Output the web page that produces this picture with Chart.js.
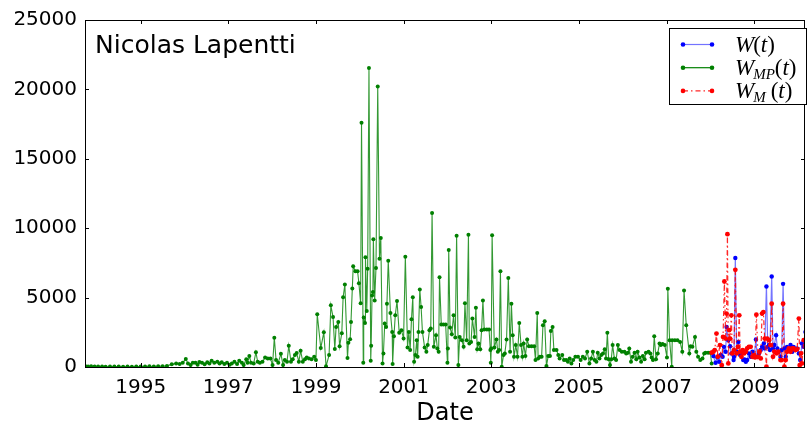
<!DOCTYPE html>
<html>
<head>
<meta charset="utf-8">
<script src="https://cdn.jsdelivr.net/npm/chart.js@4.4.1/dist/chart.umd.min.js"></script>
<style>
  html, body { margin: 0; padding: 0; background: #fff; }
  #wrap { width: 809px; height: 425px; }
</style>
</head>
<body>
<div id="wrap"><canvas id="chart" width="809" height="425"></canvas></div>
<script>
// Tick labels
const xTickYears = [1995, 1997, 1999, 2001, 2003, 2005, 2007, 2009];
const yTickValues = [0, 5000, 10000, 15000, 20000, 25000];

// W_MP(t) - green series (decimal years / values)
const mpYears = [
  1993.74, 1993.80, 1993.87, 1993.95, 1994.03, 1994.12, 1994.20, 1994.30, 1994.40, 1994.50,
  1994.60, 1994.70, 1994.80, 1994.90, 1995.00, 1995.10, 1995.20, 1995.30, 1995.40, 1995.50, 1995.60,
  1995.71, 1995.81, 1995.89, 1995.96, 1996.03, 1996.08, 1996.14, 1996.19, 1996.25, 1996.30,
  1996.34, 1996.40, 1996.46, 1996.52, 1996.57, 1996.62, 1996.68, 1996.75, 1996.80, 1996.85,
  1996.91, 1996.97, 1997.03, 1997.08, 1997.14, 1997.20, 1997.25, 1997.31, 1997.35, 1997.41,
  1997.44, 1997.48, 1997.52, 1997.58, 1997.63, 1997.67, 1997.72, 1997.78, 1997.84, 1997.90,
  1997.96, 1998.01, 1998.05, 1998.09, 1998.14, 1998.20, 1998.25, 1998.29, 1998.34, 1998.38,
  1998.43, 1998.47, 1998.52, 1998.56, 1998.61, 1998.65, 1998.70, 1998.75, 1998.79, 1998.84,
  1998.90, 1998.96, 1999.00,
  1999.03, 1999.11, 1999.18, 1999.23, 1999.30, 1999.34, 1999.39, 1999.43, 1999.46, 1999.51,
  1999.54, 1999.59, 1999.62, 1999.66, 1999.72, 1999.74, 1999.78, 1999.80, 1999.83, 1999.85,
  1999.90, 1999.95, 1999.98, 2000.02, 2000.04, 2000.08, 2000.09, 2000.12, 2000.13, 2000.16,
  2000.18, 2000.21, 2000.25, 2000.26, 2000.28, 2000.30, 2000.31, 2000.34, 2000.37, 2000.41,
  2000.45, 2000.48, 2000.52, 2000.54, 2000.57, 2000.60, 2000.62, 2000.65, 2000.70, 2000.74,
  2000.75, 2000.78, 2000.81, 2000.85, 2000.90, 2000.95, 2001.00, 2001.04, 2001.09,
  2001.12, 2001.15, 2001.18, 2001.21, 2001.24, 2001.27, 2001.30, 2001.32, 2001.34, 2001.37,
  2001.40, 2001.43, 2001.48, 2001.52, 2001.55, 2001.59, 2001.62, 2001.65, 2001.69, 2001.74,
  2001.77, 2001.80, 2001.82, 2001.86, 2001.91, 2001.96, 2002.00, 2002.01, 2002.03, 2002.06,
  2002.10, 2002.14, 2002.18, 2002.21, 2002.25, 2002.28, 2002.33, 2002.37, 2002.40, 2002.44,
  2002.48, 2002.50, 2002.54, 2002.57, 2002.62, 2002.65, 2002.68, 2002.71, 2002.75, 2002.78,
  2002.81, 2002.84, 2002.90, 2002.95, 2002.98, 2002.99, 2003.00, 2003.02,
  2003.07, 2003.12, 2003.15, 2003.18, 2003.21, 2003.24, 2003.28, 2003.31, 2003.35, 2003.39,
  2003.43, 2003.46, 2003.49, 2003.52, 2003.56, 2003.60, 2003.64, 2003.68, 2003.71, 2003.74,
  2003.78, 2003.82, 2003.86, 2003.92, 2003.98, 2004.01, 2004.05, 2004.07, 2004.11, 2004.15,
  2004.18, 2004.22, 2004.26, 2004.30, 2004.34, 2004.36, 2004.40, 2004.43, 2004.49, 2004.53,
  2004.56, 2004.62, 2004.66, 2004.71, 2004.75, 2004.79, 2004.83, 2004.87, 2004.92, 2004.98,
  2005.04, 2005.09, 2005.14, 2005.19, 2005.24, 2005.28, 2005.32, 2005.36, 2005.40, 2005.43,
  2005.47, 2005.51, 2005.55, 2005.59, 2005.62, 2005.65, 2005.68, 2005.71, 2005.74, 2005.77,
  2005.81, 2005.85, 2005.89, 2005.93, 2005.98, 2006.04, 2006.08, 2006.12, 2006.15, 2006.19,
  2006.23, 2006.27, 2006.31, 2006.34, 2006.38, 2006.42, 2006.46, 2006.50, 2006.53, 2006.59,
  2006.63, 2006.66, 2006.69, 2006.72, 2006.76, 2006.80, 2006.84, 2006.87, 2006.91, 2006.96,
  2007.01, 2007.03, 2007.07, 2007.12, 2007.13, 2007.19, 2007.25, 2007.31, 2007.36, 2007.40,
  2007.45, 2007.52, 2007.55, 2007.59, 2007.65, 2007.68, 2007.72, 2007.77, 2007.82, 2007.86,
  2007.89, 2007.95, 2008.00, 2008.03
];
const mpValues = [
  60, 40, 50, 30, 40, 30, 20, 30, 40, 30,
  20, 30, 20, 30, 40, 30, 50, 40, 60, 50, 80,
  190, 260, 215, 310, 570, 260, 140, 310, 310, 165,
  360, 310, 190, 335, 260, 450, 310, 380, 260, 335,
  215, 310, 165, 260, 380, 215, 450, 310, 140, 550,
  310, 790, 310, 260, 1070, 380, 310, 380, 690, 620,
  620, 140, 2100, 500, 310, 950, 140, 500, 380, 1530,
  380, 550, 860, 1000, 380, 1170, 380, 550, 690, 620,
  550, 740, 500,
  3800, 1360, 2500, 50, 860, 4440, 3600, 1290, 2890, 3250,
  1500, 2430, 5030, 5940, 640, 1740, 2000, 3250, 5650, 7250,
  6900, 6900, 6040, 4600, 17600, 300, 3560, 3170, 7900, 4030,
  7070, 21550, 450, 1530, 5150, 5400, 9210, 4800, 7140, 20200,
  7790, 9290, 260, 980, 3130, 2890, 4560, 7660, 3890, 2530,
  215, 2220, 3720, 4750, 2460, 2650, 2050, 7950, 1410,
  2530, 1220, 3440, 5030, 380, 860, 1930, 740, 2530, 5580,
  4320, 2530, 1410, 1100, 1580, 2650, 2770, 11100, 1450, 2290,
  1340, 1100, 6470, 3060, 3060, 3060, 310, 1340, 8430, 2840,
  2360, 3720, 2130, 9450, 140, 2170, 1930, 1450, 4600, 1930,
  9520, 1700, 1810, 3490, 2170, 4270, 1270, 1700, 1270, 2650,
  4800, 2700, 2700, 2700, 1220, 310, 1340, 9500,
  1400, 1980, 1100, 1220, 6900, 20, 860, 980, 1980, 6420,
  1100, 4560, 2290, 740, 1580, 740, 3170, 1580, 740, 1700,
  790, 1980, 1500, 1500, 1500, 500, 3890, 620, 740, 740,
  3010, 3290, 70, 790, 790, 2600, 2890, 1220, 1220, 860,
  620, 860, 500, 500, 380, 620, 260, 500, 740, 740,
  500, 740, 620, 1100, 260, 620, 1100, 500, 380, 1030,
  620, 860, 980, 1270, 620, 2460, 550, 140, 550, 1580,
  620, 500, 1580, 1220, 1100, 1100, 980, 1030, 1340, 380,
  740, 1030, 550, 1100, 690, 380, 790, 550, 1030, 1100,
  980, 690, 500, 2220, 550, 980, 1700, 1580, 1650, 1580,
  690, 5630, 1930, 20, 1930, 1930, 1930, 1810, 1100, 5510,
  3010, 980, 1500, 1450, 2170, 1100, 740, 500, 620, 980,
  1030, 1030, 1030, 260
];

// W(t) - blue series
const wYears = [
  2008.07, 2008.12, 2008.16, 2008.20, 2008.24, 2008.28, 2008.31, 2008.35, 2008.37, 2008.41,
  2008.45, 2008.48, 2008.53, 2008.54, 2008.57, 2008.60, 2008.64, 2008.68, 2008.71, 2008.75,
  2008.78, 2008.81, 2008.84, 2008.88, 2008.92, 2008.96, 2009.00, 2009.04, 2009.07, 2009.11,
  2009.15, 2009.18, 2009.22, 2009.24, 2009.28, 2009.31, 2009.34, 2009.36, 2009.40, 2009.43,
  2009.46, 2009.50, 2009.53, 2009.56, 2009.60, 2009.63, 2009.66, 2009.69, 2009.72, 2009.75,
  2009.79, 2009.83, 2009.87, 2009.90, 2009.94, 2009.98, 2010.02, 2010.05, 2010.09, 2010.13,
  2010.17
];
const wValues = [
  790, 310, 690, 380, 860, 740, 1450, 1100, 2890, 1930,
  1500, 980, 500, 740, 7850, 1100, 1810, 860, 1100, 500,
  550, 380, 500, 980, 740, 1100, 740, 1980, 740, 980,
  1220, 1450, 1700, 1340, 5800, 1450, 1580, 1220, 6520, 1340,
  1580, 2290, 1340, 1100, 740, 1220, 5990, 1340, 740, 1450,
  1220, 1580, 1100, 1450, 1220, 1340, 980, 500, 1700, 1450,
  2530
];

// W_M(t) - red series
const mYears = [
  2008.03, 2008.07, 2008.10, 2008.14, 2008.17, 2008.22, 2008.26, 2008.29, 2008.32, 2008.35,
  2008.37, 2008.39, 2008.41, 2008.43, 2008.45, 2008.48, 2008.50, 2008.54, 2008.57, 2008.60,
  2008.63, 2008.66, 2008.68, 2008.71, 2008.74, 2008.77, 2008.81, 2008.84, 2008.88, 2008.92,
  2008.96, 2009.00, 2009.02, 2009.05, 2009.09, 2009.12, 2009.15, 2009.18, 2009.21, 2009.24,
  2009.28, 2009.30, 2009.34, 2009.37, 2009.40, 2009.43, 2009.46, 2009.51, 2009.55, 2009.60,
  2009.63, 2009.66, 2009.69, 2009.72, 2009.75, 2009.79, 2009.83, 2009.87, 2009.90, 2009.94,
  2009.98, 2010.02, 2010.04, 2010.07, 2010.09, 2010.13
];
const mValues = [
  1030, 1100, 1220, 2410, 740, 1580, 140, 2170, 6160, 2050,
  3850, 9570, 260, 2650, 2050, 3720, 980, 1220, 7000, 980,
  1450, 3720, 1100, 740, 1220, 980, 1100, 1340, 1450, 1450,
  740, 860, 690, 3770, 740, 1100, 620, 3850, 3960, 2050,
  20, 2050, 1930, 1580, 4560, 740, 1100, 980, 1100, 500,
  500, 4560, 20, 500, 1100, 1340, 1100, 1340, 1340, 1220,
  1270, 3490, 140, 980, 260, 1930
];

const toPoints = (xs, ys) => xs.map((x, i) => ({ x: x, y: ys[i] }));

const FONT = '"DejaVu Sans", sans-serif';
const SERIF = '"Liberation Serif", serif';

// draws the box, inward ticks, the name label and the math legend
const framePlugin = {
  id: 'frame',
  afterDraw(chart) {
    const { ctx, chartArea: a, scales } = chart;
    ctx.save();
    ctx.strokeStyle = '#000';
    ctx.lineWidth = 1;
    ctx.strokeRect(a.left + 0.5, a.top + 0.5, a.right - a.left - 1, a.bottom - a.top);

    const tl = 4;
    ctx.beginPath();
    xTickYears.forEach((v) => {
      const px = Math.round(scales.x.getPixelForValue(v)) + 0.5;
      ctx.moveTo(px, a.bottom); ctx.lineTo(px, a.bottom - tl);
      ctx.moveTo(px, a.top); ctx.lineTo(px, a.top + tl);
    });
    yTickValues.forEach((v) => {
      const py = Math.round(scales.y.getPixelForValue(v)) + 0.5;
      ctx.moveTo(a.left, py); ctx.lineTo(a.left + tl, py);
      ctx.moveTo(a.right, py); ctx.lineTo(a.right - tl, py);
    });
    ctx.stroke();

    ctx.fillStyle = '#000';
    ctx.font = '25px ' + FONT;
    ctx.textBaseline = 'alphabetic';
    ctx.fillText('Nicolas Lapentti', 95, 53);

    // legend box
    const bx = 669.5, by = 28.5, bw = 137, bh = 76;
    ctx.fillStyle = '#fff';
    ctx.fillRect(bx, by, bw, bh);
    ctx.strokeRect(bx, by, bw, bh);

    const entries = [
      { color: '#0000ff', alpha: 0.55, dash: [], main: 'W', sub: '', gap: 0 },
      { color: '#008000', alpha: 1, dash: [], main: 'W', sub: 'MP', gap: 0 },
      { color: '#ff0000', alpha: 0.85, dash: [5, 3, 1.5, 3], main: 'W', sub: 'M', gap: 5 }
    ];
    entries.forEach((e, i) => {
      const y = 44.5 + i * 23.2;
      ctx.save();
      ctx.globalAlpha = e.alpha;
      ctx.strokeStyle = e.color;
      ctx.setLineDash(e.dash);
      ctx.lineWidth = 1.2;
      ctx.beginPath(); ctx.moveTo(683, y); ctx.lineTo(712, y); ctx.stroke();
      ctx.restore();
      ctx.fillStyle = e.color;
      [683, 712].forEach((px) => { ctx.beginPath(); ctx.arc(px, y, 2.3, 0, Math.PI * 2); ctx.fill(); });

      const base = y + 7;
      let tx = 735;
      ctx.fillStyle = '#000';
      ctx.font = 'italic 23px ' + SERIF;
      ctx.fillText(e.main, tx, base);
      tx += ctx.measureText(e.main).width - 1;
      if (e.sub) {
        ctx.font = 'italic 15px ' + SERIF;
        ctx.fillText(e.sub, tx, base + 4);
        tx += ctx.measureText(e.sub).width + e.gap;
      }
      ctx.font = '23px ' + SERIF;
      ctx.fillText('(', tx, base);
      tx += ctx.measureText('(').width;
      ctx.font = 'italic 23px ' + SERIF;
      ctx.fillText('t', tx, base);
      tx += ctx.measureText('t').width;
      ctx.font = '23px ' + SERIF;
      ctx.fillText(')', tx, base);
    });
    ctx.restore();
  }
};

new Chart(document.getElementById('chart'), {
  type: 'scatter',
  data: {
    datasets: [
      {
        label: 'W(t)',
        data: toPoints(wYears, wValues),
        showLine: true,
        borderColor: 'rgba(0, 0, 255, 0.55)',
        backgroundColor: '#0000ff',
        borderWidth: 1.2,
        pointRadius: 2.2,
        pointBorderWidth: 0,
        order: 2
      },
      {
        label: 'W_MP(t)',
        data: toPoints(mpYears, mpValues),
        showLine: true,
        borderColor: 'rgba(0, 128, 0, 0.8)',
        backgroundColor: '#008000',
        borderWidth: 1.1,
        pointRadius: 2,
        pointBorderWidth: 0,
        order: 3
      },
      {
        label: 'W_M(t)',
        data: toPoints(mYears, mValues),
        showLine: true,
        borderColor: 'rgba(255, 0, 0, 0.85)',
        backgroundColor: '#ff0000',
        borderWidth: 1.2,
        borderDash: [5, 3, 1.5, 3],
        pointRadius: 2.4,
        pointBorderWidth: 0,
        order: 1
      }
    ]
  },
  options: {
    responsive: false,
    animation: false,
    layout: { padding: { top: 18, right: 1, left: 0, bottom: 0 } },
    scales: {
      x: {
        type: 'linear',
        min: 1993.73,
        max: 2010.16,
        afterFit: (scale) => { scale.height = 58; },
        afterBuildTicks: (scale) => { scale.ticks = xTickYears.map((v) => ({ value: v })); },
        grid: { display: false, drawTicks: false },
        border: { display: false },
        ticks: {
          color: '#000',
          font: { family: FONT, size: 20 },
          padding: 9,
          maxRotation: 0,
          callback: (v) => String(v)
        },
        title: {
          display: true,
          text: 'Date',
          color: '#000',
          font: { family: FONT, size: 24 },
          padding: { top: 0, bottom: -3 }
        }
      },
      y: {
        min: 0,
        max: 25000,
        afterFit: (scale) => { scale.width = 85; },
        afterBuildTicks: (scale) => { scale.ticks = yTickValues.map((v) => ({ value: v })); },
        grid: { display: false, drawTicks: false },
        border: { display: false },
        ticks: {
          color: '#000',
          font: { family: FONT, size: 20 },
          padding: 8,
          callback: (v) => String(v)
        }
      }
    },
    plugins: {
      legend: { display: false },
      tooltip: { enabled: false }
    }
  },
  plugins: [framePlugin]
});
</script>
</body>
</html>
